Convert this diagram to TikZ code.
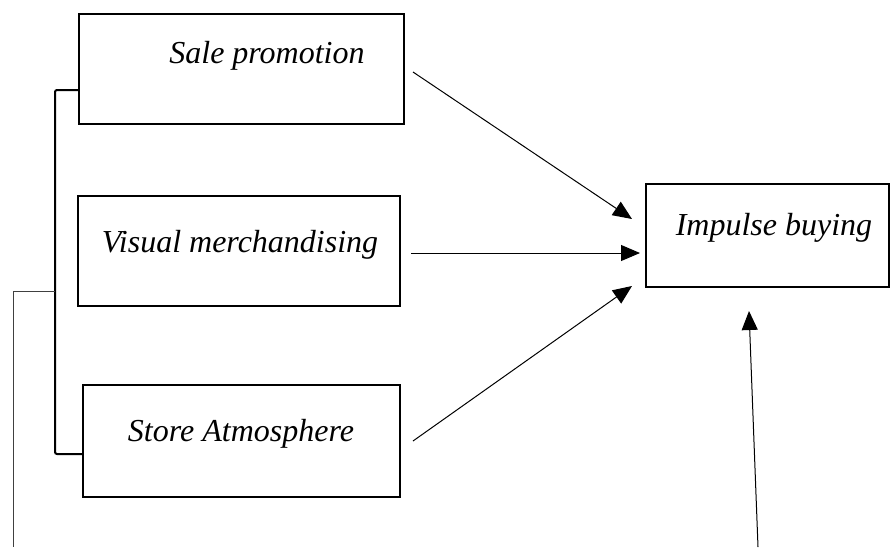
\documentclass[tikz,border=0pt]{standalone}
\usepackage{fontspec}
\setmainfont{Liberation Serif}
\usetikzlibrary{arrows.meta}
\begin{document}
\begin{tikzpicture}[x=1pt,y=-1pt,
  box/.style={draw, line width=2pt, inner sep=0pt},
  lbl/.style={inner sep=0pt, anchor=base, font=\fontsize{32}{38}\selectfont\itshape},
  arr/.style={line width=1pt, -{Triangle[length=19pt,width=16pt]}},
  brace/.style={line width=2pt, rounded corners=2pt},
  thin/.style={line width=1pt, draw=black!75}]
\useasboundingbox (0,0) rectangle (894,547);
% boxes
\node[box, minimum width=325pt, minimum height=110pt] (sp) at (241.5,69) {};
\node[lbl] (spt) at (267,63) {Sale promotion};
\node[box, minimum width=322pt, minimum height=110pt] (vm) at (239,251) {};
\node[lbl] (vmt) at (240,252) {Visual merchandising};
\node[box, minimum width=317pt, minimum height=112pt] (sa) at (241.5,441) {};
\node[lbl] (sat) at (241,441) {Store Atmosphere};
\node[box, minimum width=243pt, minimum height=103pt] (ib) at (767.5,235.5) {};
\node[lbl] (ibt) at (774,235) {Impulse buying};
% arrow endpoints
\coordinate (a1s) at (413,72);
\coordinate (a1e) at (632,219);
\coordinate (a2s) at (411,253);
\coordinate (a2e) at (640,253);
\coordinate (a3s) at (413,441);
\coordinate (a3e) at (632,286);
\coordinate (a4s) at (758,547);
\coordinate (a4e) at (749,311);
\draw[arr] (a1s) -- (a1e);
\draw[arr] (a2s) -- (a2e);
\draw[arr] (a3s) -- (a3e);
\draw[arr] (a4s) -- (a4e);
% bracket
\coordinate (bt) at (55,90);
\coordinate (bb) at (55,454);
\coordinate (bm) at (55,291);
\draw[brace] (sp.west |- bt) -- (bt) -- (bb) -- (sa.west |- bb);
\coordinate (lm) at (13,291);
\coordinate (lb) at (13,547);
\draw[thin] (bm) -- (lm) -- (lb);
\end{tikzpicture}
\end{document}
